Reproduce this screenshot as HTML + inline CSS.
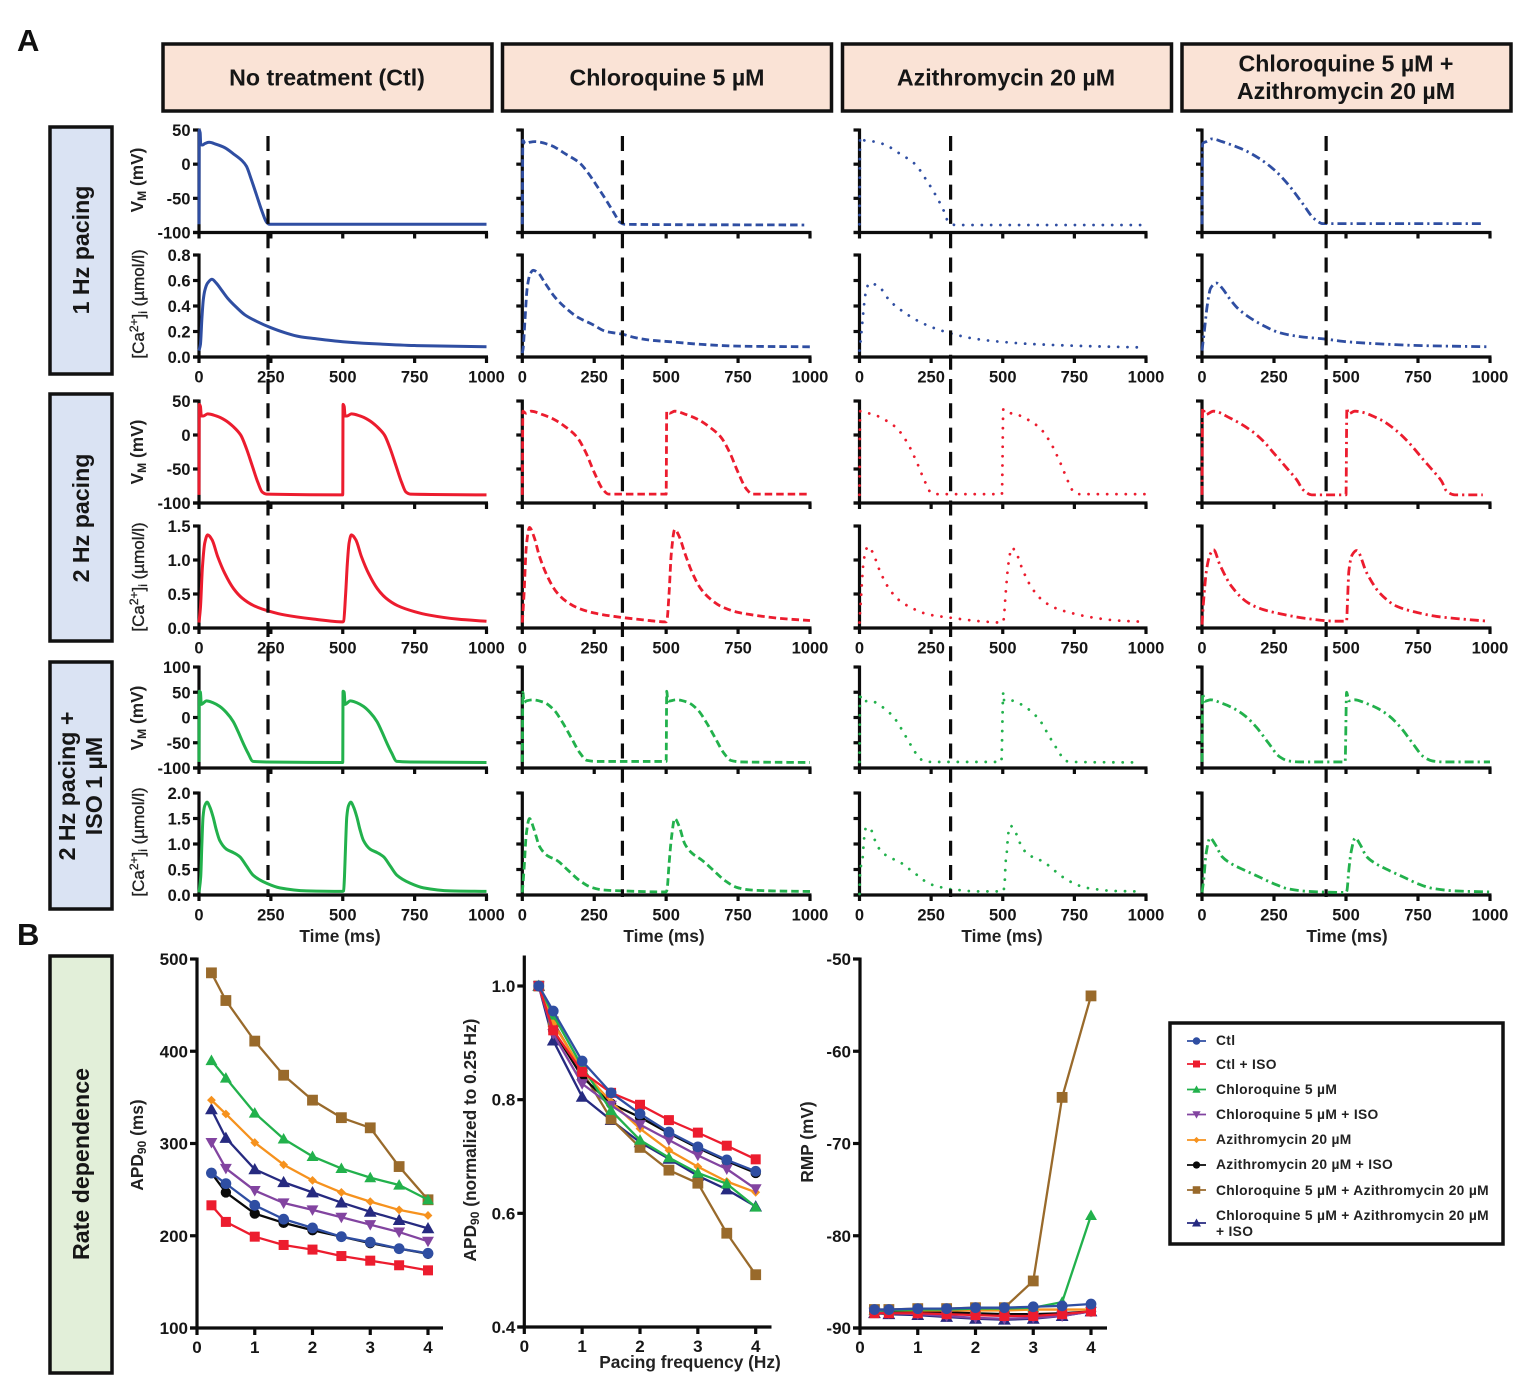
<!DOCTYPE html>
<html lang="en">
<head>
<meta charset="utf-8">
<title>Action potential and calcium transients</title>
<style>
html,body{margin:0;padding:0;background:#fff;width:1535px;height:1396px;overflow:hidden}
svg{display:block;font-family:"Liberation Sans",sans-serif;font-weight:bold;fill:#111}
.hdr{fill:#fae3d6;stroke:#111;stroke-width:3.5}
.rowbox{fill:#dae3f3;stroke:#111;stroke-width:3.5}
.grnbox{fill:#e2efd9;stroke:#111;stroke-width:3.5}
.hdrt{font-size:23.2px;text-anchor:middle;fill:#161616}
.tick{font-size:16.5px;fill:#161616}
.btick{font-size:17px;fill:#161616}
.ttl{font-size:17.3px;text-anchor:middle;fill:#222}
.catl{font-size:17px;text-anchor:middle;fill:#222;font-weight:normal;stroke:#222;stroke-width:.35}
.leg{font-size:13.8px;letter-spacing:.32px;fill:#222}
</style>
</head>
<body>
<svg id="chart" width="1535" height="1396" viewBox="0 0 1535 1396" xmlns="http://www.w3.org/2000/svg">
  <text x="17" y="51" font-size="31">A</text>
  <text x="17" y="945" font-size="31">B</text>

  <g>
    <rect class="hdr" x="163" y="44" width="329" height="67"/>
    <text class="hdrt" x="327" y="85.5">No treatment (Ctl)</text>
    <rect class="hdr" x="502.500" y="44" width="329" height="67"/>
    <text class="hdrt" x="667" y="85.5">Chloroquine 5 µM</text>
    <rect class="hdr" x="842.500" y="44" width="329" height="67"/>
    <text class="hdrt" x="1006" y="85.5">Azithromycin 20 µM</text>
    <rect class="hdr" x="1182" y="44" width="329" height="67"/>
    <text class="hdrt" x="1346" y="71.500">Chloroquine 5 µM +</text>
    <text class="hdrt" x="1346" y="99">Azithromycin 20 µM</text>
  </g>

  <g>
    <rect class="rowbox" x="50" y="127" width="62" height="247"/>
    <text class="hdrt" transform="translate(89,250) rotate(-90)">1 Hz pacing</text>
    <rect class="rowbox" x="50" y="394" width="62" height="247"/>
    <text class="hdrt" transform="translate(89,518) rotate(-90)">2 Hz pacing</text>
    <rect class="rowbox" x="50" y="662" width="62" height="247"/>
    <text class="hdrt" transform="translate(75,786) rotate(-90)">2 Hz pacing +</text>
    <text class="hdrt" transform="translate(102,786) rotate(-90)">ISO 1 µM</text>
    <rect class="grnbox" x="50" y="956" width="62" height="417"/>
    <text class="hdrt" transform="translate(89,1164) rotate(-90)">Rate dependence</text>
  </g>

  <g>
    <text class="ttl" transform="translate(143,180) rotate(-90)">V<tspan font-size="12" dy="3">M</tspan><tspan dy="-3"> (mV)</tspan></text>
    <text class="catl" transform="translate(144,304) rotate(-90)">[Ca<tspan font-size="12" dy="-6">2+</tspan><tspan dy="6">]</tspan><tspan font-size="12" dy="3">i</tspan><tspan dy="-3"> (µmol/l)</tspan></text>
    <text class="ttl" transform="translate(143,452) rotate(-90)">V<tspan font-size="12" dy="3">M</tspan><tspan dy="-3"> (mV)</tspan></text>
    <text class="catl" transform="translate(144,577) rotate(-90)">[Ca<tspan font-size="12" dy="-6">2+</tspan><tspan dy="6">]</tspan><tspan font-size="12" dy="3">i</tspan><tspan dy="-3"> (µmol/l)</tspan></text>
    <text class="ttl" transform="translate(143,718) rotate(-90)">V<tspan font-size="12" dy="3">M</tspan><tspan dy="-3"> (mV)</tspan></text>
    <text class="catl" transform="translate(144,842) rotate(-90)">[Ca<tspan font-size="12" dy="-6">2+</tspan><tspan dy="6">]</tspan><tspan font-size="12" dy="3">i</tspan><tspan dy="-3"> (µmol/l)</tspan></text>
  </g>

  <g>
    <text class="ttl" x="340" y="942">Time (ms)</text>
    <text class="ttl" x="664" y="942">Time (ms)</text>
    <text class="ttl" x="1002" y="942">Time (ms)</text>
    <text class="ttl" x="1347" y="942">Time (ms)</text>
  </g>

  <g>
    <text class="ttl" transform="translate(143,1145) rotate(-90)">APD<tspan font-size="12" dy="3">90</tspan><tspan dy="-3"> (ms)</tspan></text>
    <text class="ttl" transform="translate(476,1140) rotate(-90)">APD<tspan font-size="12" dy="3">90</tspan><tspan dy="-3"> (normalized to 0.25 Hz)</tspan></text>
    <text class="ttl" transform="translate(813,1142) rotate(-90)">RMP (mV)</text>
    <text class="ttl" x="690" y="1368">Pacing frequency (Hz)</text>
  </g>

  <g>
    <rect x="1170" y="1023" width="333" height="221" fill="#fff" stroke="#111" stroke-width="3.5"/>
    <text class="leg" x="1216" y="1045">Ctl</text>
    <text class="leg" x="1216" y="1069">Ctl + ISO</text>
    <text class="leg" x="1216" y="1094">Chloroquine 5 µM</text>
    <text class="leg" x="1216" y="1119">Chloroquine 5 µM + ISO</text>
    <text class="leg" x="1216" y="1144">Azithromycin 20 µM</text>
    <text class="leg" x="1216" y="1169">Azithromycin 20 µM + ISO</text>
    <text class="leg" x="1216" y="1195">Chloroquine 5 µM + Azithromycin 20 µM</text>
    <text class="leg" x="1216" y="1220">Chloroquine 5 µM + Azithromycin 20 µM</text>
    <text class="leg" x="1216" y="1236">+ ISO</text>
  </g>
</svg>

<script>
/* ---------- Panel A data: [time ms, value] ---------- */
const vm1Ctl = [[0,-88],[1,50],[4,46],[6,29],[12,28],[20,30],[35,32],[60,29],[90,24],[120,15],[150,5],[165,-3],[180,-20],[200,-45],[220,-70],[235,-85],[245,-88],[1000,-88]];
const ca1Ctl = [[0,.05],[5,.1],[10,.3],[15,.45],[20,.52],[30,.58],[45,.61],[60,.58],[80,.52],[100,.46],[130,.39],[160,.33],[200,.28],[250,.23],[300,.19],[350,.16],[400,.145],[500,.12],[600,.105],[750,.09],[1000,.08]];
const vm2Ctl = [[0,-88],[1,45],[5,42],[8,28],[15,28],[30,31],[60,28],[90,22],[120,12],[145,0],[165,-20],[185,-45],[205,-70],[220,-84],[235,-87],[500,-88],[501,45],[505,42],[508,28],[515,28],[530,31],[560,28],[590,22],[620,12],[645,0],[665,-20],[685,-45],[705,-70],[720,-84],[735,-87],[1000,-88]];
const ca2Ctl = [[0,.08],[5,.3],[12,.9],[20,1.25],[30,1.37],[45,1.3],[65,1.05],[90,.8],[120,.58],[150,.44],[190,.33],[250,.24],[300,.19],[400,.13],[500,.09],[503,.1],[510,.5],[516,.95],[522,1.25],[530,1.37],[545,1.3],[565,1.05],[590,.8],[620,.58],[650,.44],[690,.33],[750,.24],[800,.19],[900,.13],[1000,.1]];
const vmIsoCtl = [[0,-88],[1,52],[5,50],[8,26],[14,28],[26,33],[50,29],[72,22],[95,10],[119,-8],[136,-28],[153,-50],[170,-70],[188,-87],[235,-88],[500,-89],[501,52],[505,50],[508,26],[514,28],[526,33],[550,29],[572,22],[595,10],[619,-8],[636,-28],[653,-50],[670,-70],[688,-87],[735,-88],[1000,-89]];
const caIsoCtl = [[0,.05],[6,.36],[10,1.0],[14,1.53],[20,1.75],[28,1.82],[38,1.72],[49,1.53],[60,1.28],[72,1.07],[95,.9],[120,.83],[142,.75],[165,.57],[188,.39],[235,.23],[281,.14],[374,.08],[500,.07],[503,.08],[506,.36],[510,1.0],[514,1.53],[520,1.75],[528,1.82],[538,1.72],[549,1.53],[560,1.28],[572,1.07],[595,.9],[620,.83],[642,.75],[665,.57],[688,.39],[735,.23],[781,.14],[874,.08],[1000,.07]];

const vm1Cq = [[0,-88],[2,35],[10,30],[25,32],[44,33],[96,28],[154,14],[200,1.5],[229,-13],[258,-31],[292,-53],[321,-73],[339,-85],[356,-88],[980,-89]];
const ca1Cq = [[0,.03],[3,.07],[9,.28],[17,.54],[27,.65],[38,.68],[55,.66],[79,.58],[113,.47],[148,.39],[194,.31],[240,.26],[292,.2],[345,.18],[396,.15],[454,.13],[512,.12],[616,.1],[755,.085],[1000,.08]];
const vm2Cq = [[0,-88],[2,35],[12,32],[30,35],[70,30],[110,23],[150,12],[190,-3],[220,-25],[250,-55],[280,-80],[300,-87],[330,-87],[495,-87],[500,-87],[502,35],[512,32],[530,35],[570,30],[610,23],[650,12],[690,-3],[720,-25],[750,-55],[780,-80],[800,-87],[830,-87],[1000,-87]];
const ca2Cq = [[0,.08],[6,.5],[14,1.2],[25,1.48],[40,1.35],[60,1.05],[85,.78],[115,.55],[150,.4],[190,.3],[250,.22],[320,.17],[420,.12],[500,.09],[503,.12],[510,.5],[518,1.1],[530,1.45],[545,1.35],[565,1.1],[590,.82],[620,.58],[650,.44],[690,.32],[750,.23],[820,.18],[900,.14],[1000,.11]];
const vmIsoCq = [[0,-88],[2,50],[6,30],[15,33],[35,35],[75,30],[110,15],[140,-10],[170,-40],[200,-70],[225,-85],[260,-87],[497,-87],[500,-87],[502,52],[506,32],[515,33],[535,35],[575,30],[610,15],[640,-10],[670,-40],[700,-70],[725,-85],[760,-88],[1000,-89]];
const caIsoCq = [[0,.05],[6,.5],[14,1.2],[25,1.5],[40,1.3],[60,.95],[85,.78],[120,.68],[160,.48],[200,.28],[240,.15],[280,.1],[350,.08],[500,.06],[503,.1],[510,.6],[518,1.1],[530,1.5],[545,1.35],[565,1],[590,.82],[625,.68],[665,.48],[705,.28],[745,.15],[790,.1],[870,.08],[1000,.07]];

const vm1Az = [[0,-88],[2,40],[8,37],[23,34],[52,33],[86,29],[142,15],[194,0],[233,-23],[268,-47],[296,-70],[308,-83],[334,-89],[985,-89]];
const ca1Az = [[0,.05],[5,.15],[12,.32],[18,.45],[24,.53],[35,.58],[66,.555],[106,.44],[156,.35],[211,.275],[269,.22],[327,.18],[397,.145],[490,.12],[618,.1],[800,.085],[985,.075]];
const vm2Az = [[0,-88],[2,35],[20,33],[50,30],[90,22],[130,10],[165,-10],[200,-40],[230,-70],[250,-85],[270,-87],[497,-87],[502,38],[520,33],[550,30],[590,22],[630,10],[665,-10],[700,-40],[730,-70],[750,-85],[770,-87],[1000,-87]];
const ca2Az = [[0,.08],[6,.5],[15,1.0],[30,1.2],[45,1.12],[70,.85],[100,.6],[135,.42],[180,.3],[240,.2],[320,.15],[420,.1],[500,.08],[503,.12],[510,.5],[520,.95],[532,1.18],[545,1.12],[570,.85],[600,.6],[635,.42],[680,.3],[740,.22],[820,.15],[900,.11],[1000,.09]];
const vmIsoAz = [[0,-88],[2,50],[6,32],[40,33],[69,25],[95,14],[119,1],[137,-14],[153,-29],[169,-45],[186,-61],[203,-76],[227,-87],[258,-88],[495,-88],[502,50],[505,33],[526,34],[557,28],[586,18],[609,7],[630,-6],[648,-23],[663,-38],[679,-53],[698,-70],[715,-85],[743,-88],[980,-89]];
const caIsoAz = [[0,.02],[2,.42],[12,.78],[14,.97],[17,1.15],[23,1.33],[41,1.27],[52,1.1],[66,.93],[87,.8],[116,.71],[145,.63],[171,.52],[197,.41],[221,.3],[249,.21],[279,.16],[310,.12],[342,.1],[409,.07],[502,.07],[507,.28],[510,.64],[514,.83],[519,1.19],[526,1.36],[543,1.25],[556,1.07],[570,.91],[592,.78],[621,.71],[650,.62],[674,.51],[700,.39],[727,.29],[755,.21],[785,.15],[816,.12],[883,.08],[979,.07]];

const vm1Combo = [[0,-88],[2,30],[15,33],[35,37],[70,33],[110,27],[150,20],[200,8],[250,-8],[300,-30],[350,-58],[390,-80],[420,-87],[430,-87],[980,-87]];
const ca1Combo = [[0,.05],[8,.2],[18,.4],[30,.54],[50,.58],[70,.54],[95,.46],[125,.38],[165,.31],[210,.25],[270,.19],[340,.16],[430,.14],[500,.12],[600,.105],[750,.09],[1000,.08]];
const vm2Combo = [[0,-88],[2,40],[12,30],[40,35],[97,25],[172,6],[213,-9],[248,-26],[295,-49],[329,-66],[352,-81],[381,-88],[495,-88],[500,-88],[503,40],[508,31],[531,35],[618,23],[676,6],[722,-13],[768,-36],[803,-53],[832,-68],[850,-83],[878,-88],[975,-88]];
const ca2Combo = [[0,.05],[5,.37],[16,.86],[28,1.08],[40,1.15],[62,.93],[103,.61],[160,.37],[213,.27],[282,.2],[363,.14],[467,.1],[502,.1],[505,.37],[510,.84],[522,1.08],[537,1.14],[572,.81],[618,.51],[676,.32],[745,.23],[815,.17],[907,.13],[994,.1]];
const vmIsoCombo = [[0,-88],[2,48],[8,32],[30,35],[70,28],[110,18],[150,3],[190,-20],[230,-50],[270,-78],[300,-86],[340,-88],[497,-88],[502,50],[510,33],[530,35],[570,28],[610,18],[650,3],[690,-20],[730,-50],[770,-78],[800,-86],[840,-88],[1000,-88]];
const caIsoCombo = [[0,.05],[6,.3],[14,.8],[28,1.12],[45,1.0],[70,.75],[100,.62],[150,.48],[200,.35],[250,.22],[300,.12],[370,.07],[500,.05],[503,.08],[510,.5],[518,.85],[532,1.12],[548,1.0],[572,.75],[602,.62],[650,.48],[700,.35],[750,.22],[800,.13],[880,.08],[1000,.06]];

const apdMarkers = [240, 348, 318, 431];
const timeTickLabels = ['0','250','500','750','1000'];
const vmTickLabels = ['50','0','-50','-100'];
const vmIsoTickLabels = ['100','50','0','-50','-100'];
const ca1TickLabels = ['0.8','0.6','0.4','0.2','0.0'];
const ca2TickLabels = ['1.5','1.0','0.5','0.0'];
const caIsoTickLabels = ['2.0','1.5','1.0','0.5','0.0'];

/* ---------- Panel B data ---------- */
const frequencies = [.25,.5,1,1.5,2,2.5,3,3.5,4];
const seriesNames = ['combination-iso','combination','azithromycin-iso','azithromycin','chloroquine-iso','chloroquine','ctl-iso','ctl'];

const apdCombIso = [337,306,272,258,247,236,226,217,208];
const apdComb = [485,455,411,374,347,328,317,275,239];
const apdAzIso = [268,247,224,214,206,199,192,186,180.5];
const apdAz = [347,332,301,277,260,247,237,228,222];
const apdCqIso = [301,273,249,235.5,228,220,212,204,194];
const apdCq = [390,371,333,305,286,273,263,255,239];
const apdCtlIso = [233,215,199,190,185,178,173,168,162.5];
const apdCtl = [268,256.5,233,218,208.5,199,193,186,181];

const normCombIso = [1,.904,.805,.764,.725,.696,.666,.642,.612];
const normComb = [1,.937,.85,.766,.716,.676,.653,.565,.492];
const normAzIso = [1,.922,.84,.793,.769,.741,.715,.692,.671];
const normAz = [1,.934,.852,.796,.749,.711,.682,.656,.637];
const normCqIso = [1,.916,.828,.79,.756,.729,.702,.678,.643];
const normCq = [1,.949,.858,.781,.729,.698,.671,.652,.611];
const normCtlIso = [1,.922,.849,.812,.791,.764,.742,.719,.695];
const normCtl = [1,.956,.868,.812,.775,.743,.717,.694,.674];

const rmpCombIso = [-88.4,-88.5,-88.6,-88.8,-89,-89.1,-89,-88.7,-88.2];
const rmpComb = [-88,-88,-87.9,-87.9,-87.8,-87.8,-84.9,-65,-54];
const rmpAzIso = [-88.2,-88.2,-88.2,-88.3,-88.4,-88.5,-88.5,-88.4,-88.2];
const rmpAz = [-88.1,-88.1,-88.1,-88.1,-88.1,-88.1,-88,-88,-88];
const rmpCqIso = [-88.3,-88.4,-88.5,-88.7,-88.9,-89,-88.9,-88.7,-88.2];
const rmpCq = [-88.1,-88.1,-88,-88,-87.9,-87.9,-87.8,-87.2,-77.8];
const rmpCtlIso = [-88.4,-88.4,-88.4,-88.5,-88.6,-88.7,-88.7,-88.5,-88.2];
const rmpCtl = [-88,-88,-87.9,-87.9,-87.8,-87.8,-87.7,-87.6,-87.4];

const apdTickLabels = ['500','400','300','200','100'];
const normTickLabels = ['1.0','0.8','0.6','0.4'];
const rmpTickLabels = ['-50','-60','-70','-80','-90'];
const freqTickLabels = ['0','1','2','3','4'];

/* ---------- Layout ---------- */
const NS = 'http://www.w3.org/2000/svg';
const root = document.getElementById('chart');
const BLUE = '#2f4ea2', RED = '#ec1c2e', GREEN = '#22b14c', PURPLE = '#8244a0', ORANGE = '#f6921e', BLACK = '#0a0a0a', BROWN = '#996a2b', NAVY = '#262a80';
const colSpan = [[199,486.5],[522.3,810],[859.500,1146],[1202,1490]];
const colKeys = ['control','chloroquine','azithromycin','combination'];
const rowSpec = [
  {key:'vm-1hz', top:130, bottom:232.500, min:-100, max:50, labels:vmTickLabels, color:BLUE, xLabels:false},
  {key:'ca-1hz', top:255, bottom:357, min:0, max:.8, labels:ca1TickLabels, color:BLUE, xLabels:true},
  {key:'vm-2hz', top:401, bottom:503, min:-100, max:50, labels:vmTickLabels, color:RED, xLabels:false},
  {key:'ca-2hz', top:526, bottom:628, min:0, max:1.5, labels:ca2TickLabels, color:RED, xLabels:true},
  {key:'vm-iso', top:667, bottom:768, min:-100, max:100, labels:vmIsoTickLabels, color:GREEN, xLabels:false},
  {key:'ca-iso', top:793, bottom:895, min:0, max:2, labels:caIsoTickLabels, color:GREEN, xLabels:true}
];
const traces = [
  [vm1Ctl, ca1Ctl, vm2Ctl, ca2Ctl, vmIsoCtl, caIsoCtl],
  [vm1Cq, ca1Cq, vm2Cq, ca2Cq, vmIsoCq, caIsoCq],
  [vm1Az, ca1Az, vm2Az, ca2Az, vmIsoAz, caIsoAz],
  [vm1Combo, ca1Combo, vm2Combo, ca2Combo, vmIsoCombo, caIsoCombo]
];
const colDash = ['none','7.5 4','0.01 9.3','9 4 2.2 4'];
const colCap = ['butt','butt','round','butt'];
const AXW = 3.2;

function make(tag, attrs, parent) {
  const el = document.createElementNS(NS, tag);
  for (const k in attrs) el.setAttribute(k, attrs[k]);
  (parent || root).appendChild(el);
  return el;
}
function linear(d0, d1, r0, r1) {
  return v => r0 + (v - d0) / (d1 - d0) * (r1 - r0);
}
/* Monotone cubic path so the sampled traces render as smooth curves without overshoot */
function smoothPath(xs, ys) {
  const n = xs.length;
  const dx = [], m = [], t = new Array(n);
  for (let i = 0; i < n - 1; i++) {
    dx.push(xs[i + 1] - xs[i]);
    m.push((ys[i + 1] - ys[i]) / dx[i]);
  }
  t[0] = m[0];
  t[n - 1] = m[n - 2];
  for (let i = 1; i < n - 1; i++) {
    if (m[i - 1] * m[i] <= 0) { t[i] = 0; continue; }
    const w1 = 2 * dx[i] + dx[i - 1], w2 = dx[i] + 2 * dx[i - 1];
    t[i] = (w1 + w2) / (w1 / m[i - 1] + w2 / m[i]);
  }
  let d = 'M' + xs[0].toFixed(2) + ' ' + ys[0].toFixed(2);
  for (let i = 0; i < n - 1; i++) {
    const h = dx[i] / 3;
    d += 'C' + (xs[i] + h).toFixed(2) + ' ' + (ys[i] + t[i] * h).toFixed(2) + ' ' +
         (xs[i + 1] - h).toFixed(2) + ' ' + (ys[i + 1] - t[i + 1] * h).toFixed(2) + ' ' +
         xs[i + 1].toFixed(2) + ' ' + ys[i + 1].toFixed(2);
  }
  return d;
}
function axisLine(x1, y1, x2, y2, parent) {
  const line = make('line', {x1, y1, x2, y2, stroke:'#0c0c0c', 'stroke-width':AXW}, parent);
  
  
  return line;
}
function tickLabel(x, y, text, anchor, cls, parent) {
  const t = make('text', {x, y, 'text-anchor':anchor, class:cls}, parent);
  t.textContent = text;
  
  
  return t;
}

/* ---------- Panel A drawing ---------- */
colSpan.forEach((span, c) => {
  const sx = linear(0, 1000, span[0], span[1]);
  rowSpec.forEach((row, r) => {
    const group = make('g', {});
    
    
    const sy = linear(row.min, row.max, row.bottom, row.top);
    axisLine(span[0], row.top - 1.500, span[0], row.bottom + 1.500, group);
    axisLine(span[0] - 6, row.bottom, span[1] + 1.5, row.bottom, group);
    row.labels.forEach(label => {
      const y = sy(Number(label));
      axisLine(span[0] - 6, y, span[0], y, group);
      if (c === 0) tickLabel(span[0] - 8.5, y + 6, label, 'end', 'tick', group);
    });
    timeTickLabels.forEach(label => {
      const x = sx(Number(label));
      axisLine(x, row.bottom, x, row.bottom + 6, group);
      if (row.xLabels) tickLabel(x, row.bottom + 25.500, label, 'middle', 'tick', group);
    });
    const data = traces[c][r];
    const trace = make('path', {
      d: smoothPath(data.map(p => sx(p[0])), data.map(p => sy(p[1]))),
      fill: 'none',
      stroke: row.color,
      'stroke-width': c === 0 ? 3 : 2.8,
      'stroke-linejoin': 'round',
      'stroke-linecap': colCap[c],
      'stroke-dasharray': colDash[c]
    }, group);
    
    
  });
  const marker = make('line', {
    x1: sx(apdMarkers[c]), x2: sx(apdMarkers[c]), y1: 136, y2: 897,
    stroke: '#0c0c0c', 'stroke-width': 3.2, 'stroke-dasharray': '15 9.3'
  });
  
  
});

/* ---------- Markers ---------- */
function drawMarker(kind, x, y, s, color, parent) {
  let el;
  if (kind === 'circle') {
    el = make('circle', {cx:x, cy:y, r:s, fill:color}, parent);
  } else if (kind === 'square') {
    el = make('rect', {x:x - s, y:y - s, width:2 * s, height:2 * s, fill:color}, parent);
  } else if (kind === 'up') {
    el = make('polygon', {points:`${x},${y - s * 1.1} ${x + s * 1.1},${y + s * .85} ${x - s * 1.1},${y + s * .85}`, fill:color}, parent);
  } else if (kind === 'down') {
    el = make('polygon', {points:`${x},${y + s * 1.1} ${x + s * 1.1},${y - s * .85} ${x - s * 1.1},${y - s * .85}`, fill:color}, parent);
  } else {
    el = make('polygon', {points:`${x},${y - s} ${x + s},${y} ${x},${y + s} ${x - s},${y}`, fill:color}, parent);
  }
  
  
  return el;
}
const seriesStyle = [
  {color:NAVY, kind:'up', size:5.8},
  {color:BROWN, kind:'square', size:5.4},
  {color:BLACK, kind:'circle', size:5.2},
  {color:ORANGE, kind:'diamond', size:4.4},
  {color:PURPLE, kind:'down', size:5.4},
  {color:GREEN, kind:'up', size:5.4},
  {color:RED, kind:'square', size:5},
  {color:BLUE, kind:'circle', size:5.4}
];

/* ---------- Panel B drawing ---------- */
const bCharts = [
  {key:'apd', x0:197, x4:428, xEnd:443, top:959, bottom:1328, min:100, max:500, labels:apdTickLabels, axisTop:959,
   series:[apdCombIso, apdComb, apdAzIso, apdAz, apdCqIso, apdCq, apdCtlIso, apdCtl]},
  {key:'apd-normalized', x0:524.3, x4:755.7, xEnd:771.5, top:986, bottom:1327, min:.4, max:1, labels:normTickLabels, axisTop:957,
   series:[normCombIso, normComb, normAzIso, normAz, normCqIso, normCq, normCtlIso, normCtl]},
  {key:'rmp', x0:860, x4:1091, xEnd:1107, top:959, bottom:1328, min:-90, max:-50, labels:rmpTickLabels, axisTop:959,
   series:[rmpCombIso, rmpComb, rmpAzIso, rmpAz, rmpCqIso, rmpCq, rmpCtlIso, rmpCtl]}
];
bCharts.forEach(ch => {
  const group = make('g', {});
  
  
  const sx = linear(0, 4, ch.x0, ch.x4);
  const sy = linear(ch.min, ch.max, ch.bottom, ch.top);
  axisLine(ch.x0, ch.axisTop - 1.500, ch.x0, ch.bottom + 1.500, group);
  axisLine(ch.x0 - 7, ch.bottom, ch.xEnd, ch.bottom, group);
  ch.labels.forEach(label => {
    const y = sy(Number(label));
    axisLine(ch.x0 - 7, y, ch.x0, y, group);
    tickLabel(ch.x0 - 9, y + 6, label, 'end', 'btick', group);
  });
  freqTickLabels.forEach(label => {
    const x = sx(Number(label));
    axisLine(x, ch.bottom, x, ch.bottom + 7, group);
    tickLabel(x, ch.bottom + 25, label, 'middle', 'btick', group);
  });
  ch.series.forEach((values, i) => {
    const st = seriesStyle[i];
    const line = make('polyline', {
      points: values.map((v, j) => sx(frequencies[j]).toFixed(2) + ',' + sy(v).toFixed(2)).join(' '),
      fill: 'none', stroke: st.color, 'stroke-width': 2.3, 'stroke-linejoin': 'round'
    }, group);
    
    
    values.forEach((v, j) => {
      drawMarker(st.kind, sx(frequencies[j]), sy(v), st.size, st.color, group);
    });
  });
});

/* ---------- Legend symbols ---------- */
const legendOrder = [7,6,5,4,3,2,1,0];
const legendRowY = [1041,1064,1089.500,1114.500,1140,1165,1190,1223];
legendOrder.forEach((idx, row) => {
  const st = seriesStyle[idx];
  const y = legendRowY[row];
  const sample = make('line', {x1:1187, x2:1206, y1:y, y2:y, stroke:st.color, 'stroke-width':1.8});
  
  
  drawMarker(st.kind, 1196.5, y, st.size * .7, st.color, root);
});
</script>
</body>
</html>
